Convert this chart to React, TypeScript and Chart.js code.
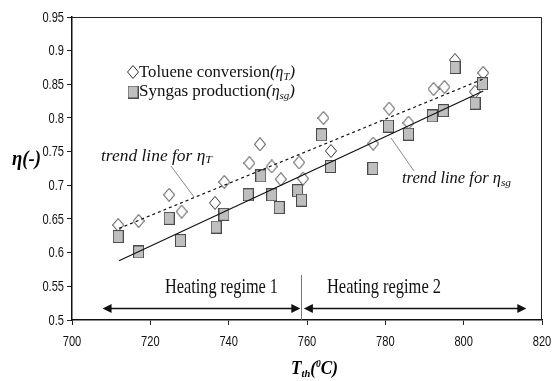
import React, { useEffect, useRef } from "react";
import { Chart, registerables } from "chart.js";

Chart.register(...registerables);

// ---- data ----
const tolueneT = [711.8, 717, 724.8, 728, 736.5, 738.9, 745.3, 748, 751, 753.3, 758, 759, 764.2, 766.1, 776.9, 781, 785.9, 792.3, 795.1, 797.8, 802.9, 805];
const tolueneEta = [0.641, 0.647, 0.686, 0.661, 0.674, 0.705, 0.733, 0.761, 0.728, 0.709, 0.734, 0.71, 0.8, 0.751, 0.762, 0.814, 0.793, 0.843, 0.846, 0.886, 0.839, 0.867];
const syngasT = [711.8, 717, 724.8, 727.7, 736.8, 738.8, 745, 748.2, 751, 752.9, 757.6, 758.6, 763.7, 766, 776.8, 780.8, 785.9, 792, 794.8, 797.8, 802.9, 804.8];
const syngasEta = [0.624, 0.601, 0.651, 0.618, 0.638, 0.657, 0.686, 0.714, 0.686, 0.667, 0.692, 0.678, 0.775, 0.728, 0.725, 0.788, 0.776, 0.803, 0.811, 0.875, 0.822, 0.851];
const trendTolueneT = [712, 805];
const trendTolueneEta = [0.636, 0.858];
const trendSyngasT = [712, 805];
const trendSyngasEta = [0.588, 0.84];
const xTickValues = [700, 720, 740, 760, 780, 800, 820];
const yTickValues = [0.5, 0.55, 0.6, 0.65, 0.7, 0.75, 0.8, 0.85, 0.9, 0.95];
const regimeBoundary = 758.5;
const regime1Range = [707.8, 758.3];
const regime2Range = [759.2, 816];
const regimeArrowEta = 0.518;
const regimeLabels = ["Heating regime 1", "Heating regime 2"];

const toPoints = (xs: number[], ys: number[]) => xs.map((x, i) => ({ x, y: ys[i] }));
const fmtY = (v: number) => String(Number(v.toFixed(2)));

function makeDiamond(): HTMLCanvasElement {
  const c = document.createElement("canvas");
  c.width = 12;
  c.height = 14;
  const g = c.getContext("2d")!;
  g.beginPath();
  g.moveTo(6, 0.5);
  g.lineTo(11.5, 7);
  g.lineTo(6, 13.5);
  g.lineTo(0.5, 7);
  g.closePath();
  g.fillStyle = "#ffffff";
  g.fill();
  g.strokeStyle = "#333333";
  g.lineWidth = 1;
  g.stroke();
  return c;
}

function makeSquare(): HTMLCanvasElement {
  const c = document.createElement("canvas");
  c.width = 11;
  c.height = 13;
  const g = c.getContext("2d")!;
  g.fillStyle = "#bfbfbf";
  g.fillRect(0, 0, 11, 13);
  g.strokeStyle = "#4a4a4a";
  g.lineWidth = 1;
  g.strokeRect(0.5, 0.5, 10, 12);
  return c;
}

type Seg = { t: string; font: string; dy?: number };
function drawSegs(ctx: CanvasRenderingContext2D, segs: Seg[], x: number, y: number, targetW: number) {
  let total = 0;
  for (const s of segs) {
    ctx.font = s.font;
    total += ctx.measureText(s.t).width;
  }
  const sx = targetW / total;
  ctx.save();
  ctx.translate(x, y);
  ctx.scale(sx, 1);
  ctx.textAlign = "left";
  ctx.textBaseline = "alphabetic";
  let cx = 0;
  for (const s of segs) {
    ctx.font = s.font;
    ctx.fillText(s.t, cx, s.dy || 0);
    cx += ctx.measureText(s.t).width;
  }
  ctx.restore();
}

function squishText(ctx: CanvasRenderingContext2D, t: string, x: number, y: number, sx: number, align: CanvasTextAlign) {
  ctx.save();
  ctx.translate(x, y);
  ctx.scale(sx, 1);
  ctx.textAlign = align;
  ctx.textBaseline = "middle";
  ctx.fillText(t, 0, 0);
  ctx.restore();
}

function arrowHead(ctx: CanvasRenderingContext2D, x: number, y: number, dir: number) {
  ctx.beginPath();
  ctx.moveTo(x, y);
  ctx.lineTo(x - dir * 9, y - 4.5);
  ctx.lineTo(x - dir * 9, y + 4.5);
  ctx.closePath();
  ctx.fill();
}

const SERIF = "'Liberation Serif', 'Times New Roman', serif";
const SANS = "'Liberation Sans', Arial, sans-serif";

export default function App() {
  const ref = useRef<HTMLCanvasElement | null>(null);

  useEffect(() => {
    if (!ref.current) return;
    const diamond = makeDiamond();
    const square = makeSquare();

    const overlay = {
      id: "overlay",
      afterDraw(chart: any) {
        const ctx: CanvasRenderingContext2D = chart.ctx;
        const { left, right, top, bottom } = chart.chartArea;
        const xs = chart.scales.x;
        const ys = chart.scales.y;
        ctx.save();
        // frame top/right
        ctx.strokeStyle = "#222";
        ctx.lineWidth = 1;
        ctx.beginPath();
        ctx.moveTo(left, top + 0.5);
        ctx.lineTo(right - 0.5, top + 0.5);
        ctx.lineTo(right - 0.5, bottom);
        ctx.stroke();

        // tick labels (narrow sans, from the scales' ticks)
        ctx.fillStyle = "#111";
        ctx.font = `15px ${SANS}`;
        for (const t of ys.ticks) {
          squishText(ctx, fmtY(t.value), left - 8, ys.getPixelForValue(t.value) + 0.5, 0.74, "right");
        }
        for (const t of xs.ticks) {
          squishText(ctx, String(t.value), xs.getPixelForValue(t.value), bottom + 22, 0.74, "center");
        }

        // regime boundary
        const bx = Math.round(xs.getPixelForValue(regimeBoundary)) + 0.5;
        ctx.strokeStyle = "#777";
        ctx.beginPath();
        ctx.moveTo(bx, bottom - 45);
        ctx.lineTo(bx, bottom);
        ctx.stroke();

        // arrows
        const ay = Math.round(ys.getPixelForValue(regimeArrowEta)) + 0.5;
        ctx.strokeStyle = "#111";
        ctx.fillStyle = "#111";
        ctx.lineWidth = 1.5;
        for (const r of [regime1Range, regime2Range]) {
          const x1 = xs.getPixelForValue(r[0]);
          const x2 = xs.getPixelForValue(r[1]);
          ctx.beginPath();
          ctx.moveTo(x1 + 4, ay);
          ctx.lineTo(x2 - 4, ay);
          ctx.stroke();
          arrowHead(ctx, x1, ay, -1);
          arrowHead(ctx, x2, ay, 1);
        }

        ctx.fillStyle = "#111";
        // regime labels
        drawSegs(ctx, [{ t: regimeLabels[0], font: `21px ${SERIF}` }], 165, 293, 113);
        drawSegs(ctx, [{ t: regimeLabels[1], font: `21px ${SERIF}` }], 327, 293, 114);

        // legend
        ctx.drawImage(diamond, 133 - 6, 72 - 7);
        ctx.drawImage(square, 133 - 5.5, 92 - 6.5);
        drawSegs(
          ctx,
          [
            { t: "Toluene conversion", font: `17px ${SERIF}` },
            { t: "(", font: `italic 17px ${SERIF}` },
            { t: "η", font: `italic 16px ${SERIF}` },
            { t: "T", font: `italic 11px ${SERIF}`, dy: 3 },
            { t: ")", font: `italic 17px ${SERIF}` },
          ],
          139,
          77,
          156
        );
        drawSegs(
          ctx,
          [
            { t: "Syngas production", font: `17px ${SERIF}` },
            { t: "(", font: `italic 17px ${SERIF}` },
            { t: "η", font: `italic 16px ${SERIF}` },
            { t: "sg", font: `italic 11px ${SERIF}`, dy: 3 },
            { t: ")", font: `italic 17px ${SERIF}` },
          ],
          139,
          96,
          156
        );

        // trend labels + leaders
        drawSegs(
          ctx,
          [
            { t: "trend line for η", font: `italic 16px ${SERIF}` },
            { t: "T", font: `italic 11px ${SERIF}`, dy: 2 },
          ],
          101,
          161,
          111
        );
        drawSegs(
          ctx,
          [
            { t: "trend line for η", font: `italic 16px ${SERIF}` },
            { t: "sg", font: `italic 11px ${SERIF}`, dy: 3 },
          ],
          402,
          183,
          109
        );
        ctx.strokeStyle = "#888";
        ctx.lineWidth = 1;
        ctx.beginPath();
        ctx.moveTo(171, 166);
        ctx.lineTo(194, 197);
        ctx.moveTo(391, 138);
        ctx.lineTo(414, 171);
        ctx.stroke();

        // axis titles
        ctx.fillStyle = "#000";
        drawSegs(ctx, [{ t: "η(-)", font: `bold italic 22px ${SERIF}` }], 12, 165, 29);
        drawSegs(
          ctx,
          [
            { t: "T", font: `bold italic 18px ${SERIF}` },
            { t: "th", font: `bold italic 11px ${SERIF}`, dy: 3 },
            { t: "(", font: `bold italic 18px ${SERIF}` },
            { t: "0", font: `bold italic 10px ${SERIF}`, dy: -7 },
            { t: "C)", font: `bold italic 18px ${SERIF}` },
          ],
          291,
          374,
          47
        );
        ctx.restore();
      },
    };

    const chart = new Chart(ref.current, {
      type: "scatter",
      data: {
        datasets: [
          {
            label: "trend T",
            data: toPoints(trendTolueneT, trendTolueneEta),
            showLine: true,
            borderColor: "#111",
            borderWidth: 1.2,
            borderDash: [3, 3],
            pointRadius: 0,
            order: 0,
          },
          {
            label: "trend sg",
            data: toPoints(trendSyngasT, trendSyngasEta),
            showLine: true,
            borderColor: "#111",
            borderWidth: 1.2,
            pointRadius: 0,
            order: 0,
          },
          {
            label: "Syngas production",
            data: toPoints(syngasT, syngasEta),
            pointStyle: square as any,
            pointRadius: 6,
            order: 1,
          },
          {
            label: "Toluene conversion",
            data: toPoints(tolueneT, tolueneEta),
            pointStyle: diamond as any,
            pointRadius: 6,
            order: 2,
          },
        ],
      },
      options: {
        animation: false,
        responsive: false,
        events: [],
        layout: { padding: { left: 0, top: 17, right: 10, bottom: 0 } },
        plugins: { legend: { display: false }, tooltip: { enabled: false } },
        scales: {
          x: {
            type: "linear",
            min: 700,
            max: 820,
            afterFit: (s: any) => {
              s.height = 61;
            },
            afterBuildTicks: (s: any) => {
              s.ticks = xTickValues.map((v) => ({ value: v }));
            },
            grid: { display: true, drawOnChartArea: false, drawTicks: true, tickLength: 5, color: "#222" },
            border: { display: true, color: "#111", width: 1.5 },
            ticks: { display: false },
          },
          y: {
            type: "linear",
            min: 0.5,
            max: 0.95,
            afterFit: (s: any) => {
              s.width = 72;
            },
            afterBuildTicks: (s: any) => {
              s.ticks = yTickValues.map((v) => ({ value: v }));
            },
            grid: { display: true, drawOnChartArea: false, drawTicks: true, tickLength: 5, color: "#222" },
            border: { display: true, color: "#111", width: 1.5 },
            ticks: { display: false },
          },
        },
      },
      plugins: [overlay],
    });
    return () => chart.destroy();
  }, []);

  return (
    <div style={{ position: "fixed", left: 0, top: 0, width: 552, height: 381, background: "#fff" }}>
      <canvas ref={ref} width={552} height={381} style={{ display: "block", width: 552, height: 381 }} />
    </div>
  );
}
